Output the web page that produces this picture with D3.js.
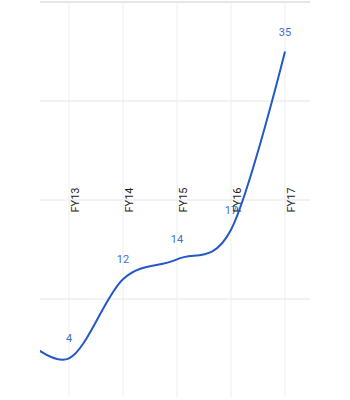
<!DOCTYPE html>
<html>
<head>
<meta charset="utf-8">
<script src="https://cdn.jsdelivr.net/npm/d3@7"></script>
<style>
  html, body { margin: 0; padding: 0; background: #fff; }
  svg { display: block; font-family: Roboto, Arial, sans-serif; }
</style>
</head>
<body>
<svg id="chart" width="350" height="400"></svg>
<script>
// Fiscal years; FY12 sits just left of the visible window and only shapes the curve entry.
const categories = ["FY12", "FY13", "FY14", "FY15", "FY16", "FY17"];
const values = [6.8, 4, 12, 14, 17, 35];
const gridValues = [10, 20, 30, 40];

const W = 350, H = 400;
const plot = { left: 40, right: 310, top: 2, bottom: 398 };

const svg = d3.select("#chart");

const x = d3.scaleLinear().domain([0, categories.length - 1]).range([15, 285]);
const y = d3.scaleLinear().domain([0, 40]).range([plot.bottom, plot.top]);

const data = categories.map((c, i) => ({ c, i, v: values[i] }));
const visible = data.filter(d => x(d.i) >= plot.left && x(d.i) <= plot.right);

svg.append("defs").append("clipPath").attr("id", "plotClip")
  .append("rect")
  .attr("x", plot.left).attr("y", 0)
  .attr("width", plot.right - plot.left).attr("height", H);

// Horizontal gridlines
svg.append("g").selectAll("line").data(gridValues).join("line")
  .attr("x1", plot.left).attr("x2", plot.right)
  .attr("y1", d => y(d)).attr("y2", d => y(d))
  .attr("stroke", d => d === 40 ? "#cccccc" : "#e4e4e4")
  .attr("stroke-width", 1);

// Vertical gridlines at each visible category
svg.append("g").selectAll("line").data(visible).join("line")
  .attr("x1", d => x(d.i)).attr("x2", d => x(d.i))
  .attr("y1", plot.top).attr("y2", plot.bottom - 1)
  .attr("stroke", "#eeeeee")
  .attr("stroke-width", 1);

// Value labels
svg.append("g").selectAll("text").data(visible).join("text")
  .attr("x", d => x(d.i))
  .attr("y", d => y(d.v) - 16)
  .attr("text-anchor", "middle")
  .attr("font-size", 11)
  .attr("fill", "#3d6fd6")
  .text(d => d.v);

// Category labels, rotated, sitting on the mid gridline
svg.append("g").selectAll("text").data(visible).join("text")
  .attr("transform", d => `translate(${x(d.i) + 10},${y(20)}) rotate(-90)`)
  .attr("text-anchor", "middle")
  .attr("font-size", 11)
  .attr("fill", "#222")
  .text(d => d.c);

// Smoothed series line
const line = d3.line()
  .x(d => x(d.i))
  .y(d => y(d.v))
  .curve(d3.curveCardinal.tension(0));

svg.append("path")
  .datum(data)
  .attr("clip-path", "url(#plotClip)")
  .attr("d", line)
  .attr("fill", "none")
  .attr("stroke", "#2458c8")
  .attr("stroke-width", 2);
</script>
</body>
</html>
